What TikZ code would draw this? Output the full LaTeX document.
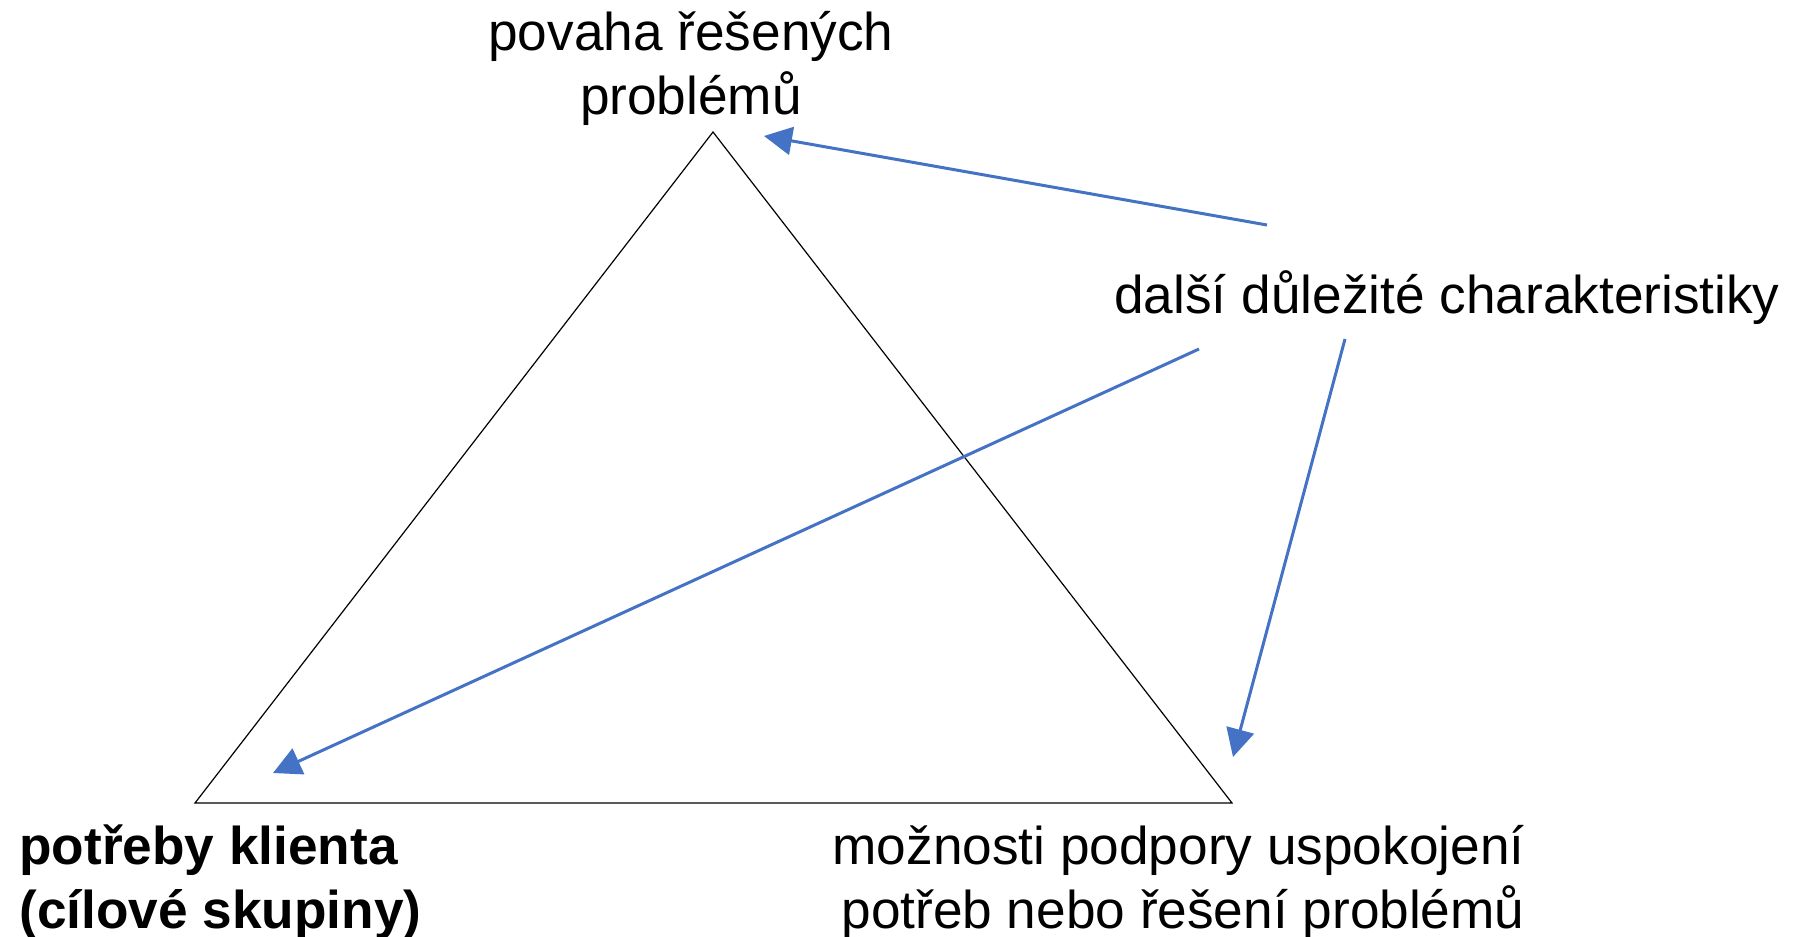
\documentclass[tikz,border=0pt]{standalone}
\usepackage{fontspec}
\setmainfont{Liberation Sans}
\usepackage{tikz}
\usetikzlibrary{arrows.meta, positioning}
\definecolor{arrowblue}{HTML}{4472C4}
\tikzstyle{label} = [font=\fontsize{26.6}{32}\selectfont, inner sep=0pt, text=black]
\tikzstyle{edge} = [draw=black, line width=0.6pt, line join=miter]
\tikzstyle{arrow} = [draw=arrowblue, line width=1.5pt, -{Triangle[length=14pt, width=14pt]}]

\begin{document}
\begin{tikzpicture}[x=0.5pt, y=-0.5pt]
        \useasboundingbox (0,0) rectangle (1806,937);

        % triangle
        \coordinate (Top) at (713,132);
        \coordinate (Left) at (195,803);
        \coordinate (Right) at (1232,803);
        \draw[edge] (Top) -- (Left) -- (Right) -- cycle;

        % labels
        \node[label, align=center] (Nature) at (691,68) {povaha řešených\\problémů};
        \node[label] (Other) at (1447,298) {další důležité charakteristiky};
        \node[label, align=left, anchor=west, font=\fontsize{26.6}{32}\selectfont\bfseries] (Needs) at (19,882) {potřeby klienta\\(cílové skupiny)};
        \node[label, align=right, anchor=east] (Support) at (1525,882) {možnosti podpory uspokojení\\potřeb nebo řešení problémů};

        % arrows
        \coordinate (FromA) at (1267,225);
        \coordinate (ToA) at (764,136);
        \coordinate (FromB) at (1199,349);
        \coordinate (ToB) at (273,773);
        \coordinate (FromC) at (1345,339);
        \coordinate (ToC) at (1233,757);
        \draw[arrow] (FromA) -- (ToA);
        \draw[arrow] (FromB) -- (ToB);
        \draw[arrow] (FromC) -- (ToC);
\end{tikzpicture}
\end{document}
